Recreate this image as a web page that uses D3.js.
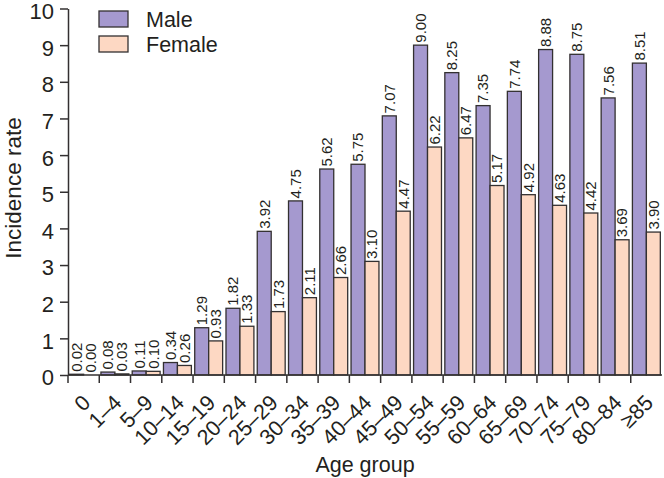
<!DOCTYPE html>
<html><head><meta charset="utf-8">
<script src="https://cdn.jsdelivr.net/npm/d3@7"></script>
<style>body{margin:0;background:#fff}text{font-family:"Liberation Sans",Arial,sans-serif;fill:#231f20}</style>
</head><body><svg id="c" width="664" height="478"></svg>
<script>
const categories = ["0","1\u20134","5\u20139","10\u201314","15\u201319","20\u201324","25\u201329","30\u201334","35\u201339","40\u201344","45\u201349","50\u201354","55\u201359","60\u201364","65\u201369","70\u201374","75\u201379","80\u201384","\u226585"];
const male   = [0.02,0.08,0.11,0.34,1.29,1.82,3.92,4.75,5.62,5.75,7.07,9.00,8.25,7.35,7.74,8.88,8.75,7.56,8.51];
const female = [0.00,0.03,0.10,0.26,0.93,1.33,1.73,2.11,2.66,3.10,4.47,6.22,6.47,5.17,4.92,4.63,4.42,3.69,3.90];
const seriesNames = ["Male","Female"];
const yTicks = [0,1,2,3,4,5,6,7,8,9,10];
const colors = ["#a599cf","#fdd8c3"];

(function(){
const svg = d3.select("#c");
const mL = 68, mR = 662, mT = 8.5, mB = 375;
const x = d3.scaleBand().domain(categories).range([mL,mR]).paddingInner(0).paddingOuter(0);
const x1 = d3.scaleBand().domain(seriesNames).range([0,x.bandwidth()]).paddingOuter(0.12).paddingInner(0);
const y = d3.scaleLinear().domain([0,10]).range([mB,mT]);
const stroke = "#333031";

const data = categories.map((c,i)=>({c, vals:[male[i],female[i]]}));
const g = svg.append("g");
data.forEach(d=>{
  d.vals.forEach((v,j)=>{
    const bx = x(d.c)+x1(seriesNames[j]);
    g.append("rect").attr("x",bx).attr("y",y(v)).attr("width",x1.bandwidth()).attr("height",mB-y(v))
      .attr("fill",colors[j]).attr("stroke",stroke).attr("stroke-width",1.3);
    g.append("text").attr("transform",`translate(${bx+x1.bandwidth()/2+5.4},${y(v)-2.5}) rotate(-90)`)
      .attr("font-size",15).text(v.toFixed(2));
  });
});

const ya = svg.append("g").attr("transform",`translate(${mL},0)`)
  .call(d3.axisLeft(y).tickValues(yTicks).tickSize(8).tickSizeOuter(0).tickPadding(6));
ya.select(".domain").attr("stroke",stroke).attr("stroke-width",1.5);
ya.selectAll(".tick line").attr("stroke",stroke).attr("stroke-width",1.5);
ya.selectAll(".tick text").attr("font-size",22).attr("dy","0.45em").attr("fill","#231f20").attr("font-family","Liberation Sans, Arial");

const xa = svg.append("g").attr("transform",`translate(0,${mB})`);
xa.append("line").attr("x1",mL).attr("x2",mR).attr("y1",0).attr("y2",0).attr("stroke",stroke).attr("stroke-width",1.5);
categories.forEach(c=>{
  const b = x(c);
  xa.append("line").attr("x1",b).attr("x2",b).attr("y1",0).attr("y2",8).attr("stroke",stroke).attr("stroke-width",1.5);
});
categories.forEach(c=>{
  const cx = x(c)+x.bandwidth()/2;
  xa.append("text").attr("transform",`translate(${cx+8},${29}) rotate(-45)`)
    .attr("text-anchor","end").attr("font-size",21.5).text(c);
});

svg.append("text").attr("transform",`translate(21,188) rotate(-90)`)
  .attr("text-anchor","middle").attr("font-size",22.5).text("Incidence rate");
svg.append("text").attr("x",365).attr("y",472).attr("text-anchor","middle").attr("font-size",21.5).text("Age group");

seriesNames.forEach((s,i)=>{
  svg.append("rect").attr("x",99).attr("y",11+i*25).attr("width",29).attr("height",16)
    .attr("fill",colors[i]).attr("stroke",stroke).attr("stroke-width",1.3);
  svg.append("text").attr("x",146).attr("y",27+i*25).attr("font-size",21.5).text(s);
});
})();
</script></body></html>
